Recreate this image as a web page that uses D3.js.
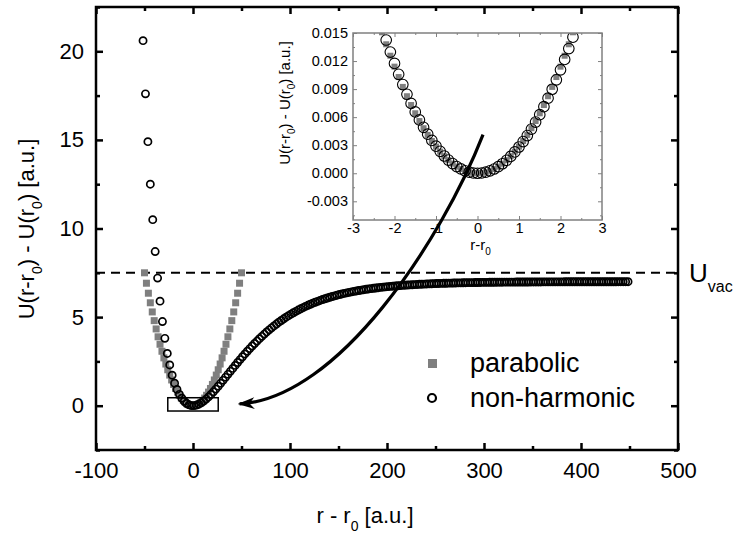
<!DOCTYPE html>
<html>
<head>
<meta charset="utf-8">
<script src="https://cdn.jsdelivr.net/npm/d3@7"></script>
<style>
body { margin: 0; background: #fff; }
text { font-family: "Liberation Sans", Arial, Helvetica, sans-serif; }
</style>
</head>
<body>
<div id="chart"></div>
<script>
// parabolic approximation, main plot
const harmX = [-50, -48, -46, -44, -42, -40, -38, -36, -34, -32, -30, -28, -26, -24, -22, -20, -18, -16, -14, -12, -10, -8, -6, -4, -2,
    0, 2, 4, 6, 8, 10, 12, 14, 16, 18, 20, 22, 24, 26, 28, 30, 32, 34, 36, 38, 40, 42, 44, 46, 48, 50];
const harmU = [7.5, 6.912, 6.348, 5.808, 5.292, 4.8, 4.332, 3.888, 3.468, 3.072, 2.7, 2.352, 2.028, 1.728, 1.452, 1.2, 0.972, 0.768, 0.588, 0.432, 0.3, 0.192, 0.108, 0.048, 0.012,
    0, 0.012, 0.048, 0.108, 0.192, 0.3, 0.432, 0.588, 0.768, 0.972, 1.2, 1.452, 1.728, 2.028, 2.352, 2.7, 3.072, 3.468, 3.888, 4.332, 4.8, 5.292, 5.808, 6.348, 6.912, 7.5];

// non-harmonic potential, main plot
const morseX = [-51.5, -49, -46.5, -44, -41.5, -39, -36.5, -34, -31.5, -29, -26.5, -24, -21.5, -19, -16.5, -14, -11.5, -9, -6.5, -4, -1.5,
    1, 3.5, 6, 8.5, 11, 13.5, 16, 18.5, 21, 23.5,
    26, 28.5, 31, 33.5, 36, 38.5, 41, 43.5, 46, 48.5,
    51, 53.5, 56, 58.5, 61, 63.5, 66, 68.5, 71, 73.5,
    76, 78.5, 81, 83.5, 86, 88.5, 91, 93.5, 96, 98.5,
    101, 103.5, 106, 108.5, 111, 113.5, 116, 118.5, 121, 123.5,
    126, 128.5, 131, 133.5, 136, 138.5, 141, 143.5, 146, 148.5,
    151, 153.5, 156, 158.5, 161, 163.5, 166, 168.5, 171, 173.5,
    176, 178.5, 181, 183.5, 186, 188.5, 191, 193.5, 196, 198.5,
    201, 203.5, 206, 208.5, 211, 213.5, 216, 218.5, 221, 223.5,
    226, 228.5, 231, 233.5, 236, 238.5, 241, 243.5, 246, 248.5,
    251, 253.5, 256, 258.5, 261, 263.5, 266, 268.5, 271, 273.5,
    276, 278.5, 281, 283.5, 286, 288.5, 291, 293.5, 296, 298.5,
    301, 303.5, 306, 308.5, 311, 313.5, 316, 318.5, 321, 323.5,
    326, 328.5, 331, 333.5, 336, 338.5, 341, 343.5, 346, 348.5,
    351, 353.5, 356, 358.5, 361, 363.5, 366, 368.5, 371, 373.5,
    376, 378.5, 381, 383.5, 386, 388.5, 391, 393.5, 396, 398.5,
    401, 403.5, 406, 408.5, 411, 413.5, 416, 418.5, 421, 423.5,
    426, 428.5, 431, 433.5, 436, 438.5, 441, 443.5, 446, 448.5];
const morseU = [20.6, 17.6, 14.9, 12.5, 10.5, 8.7, 7.2, 5.9, 4.75, 3.8, 2.95, 2.3, 1.72, 1.27, 0.92, 0.64, 0.42, 0.25, 0.125, 0.045, 0.006,
    0.003, 0.030, 0.085, 0.162, 0.259, 0.372, 0.498, 0.636, 0.784, 0.938,
    1.098, 1.263, 1.430, 1.599, 1.768, 1.938, 2.106, 2.274, 2.439, 2.602,
    2.762, 2.919, 3.073, 3.223, 3.369, 3.511, 3.649, 3.784, 3.914, 4.040,
    4.162, 4.280, 4.393, 4.503, 4.609, 4.711, 4.809, 4.904, 4.994, 5.082,
    5.166, 5.246, 5.324, 5.398, 5.469, 5.537, 5.603, 5.665, 5.725, 5.783,
    5.838, 5.890, 5.941, 5.989, 6.035, 6.079, 6.121, 6.161, 6.200, 6.237,
    6.272, 6.305, 6.337, 6.368, 6.397, 6.425, 6.452, 6.477, 6.502, 6.525,
    6.547, 6.568, 6.588, 6.607, 6.626, 6.643, 6.660, 6.676, 6.691, 6.705,
    6.719, 6.732, 6.745, 6.757, 6.768, 6.779, 6.790, 6.800, 6.809, 6.818,
    6.826, 6.834, 6.842, 6.850, 6.857, 6.863, 6.870, 6.876, 6.882, 6.887,
    6.893, 6.898, 6.903, 6.907, 6.911, 6.916, 6.920, 6.923, 6.927, 6.931,
    6.934, 6.937, 6.940, 6.943, 6.945, 6.948, 6.950, 6.953, 6.955, 6.957,
    6.959, 6.961, 6.963, 6.964, 6.966, 6.968, 6.969, 6.970, 6.972, 6.973,
    6.974, 6.975, 6.976, 6.977, 6.978, 6.979, 6.980, 6.981, 6.982, 6.983,
    6.983, 6.984, 6.985, 6.985, 6.986, 6.987, 6.987, 6.988, 6.988, 6.989,
    6.989, 6.990, 6.990, 6.991, 6.991, 6.991, 6.992, 6.992, 6.992, 6.993,
    6.993, 6.993, 6.994, 6.994, 6.994, 6.994, 6.995, 6.995, 6.995, 6.995,
    6.996, 6.996, 6.996, 6.996, 6.996, 6.997, 6.997, 6.997, 6.997, 6.997];

// inset (zoom around the minimum)
const insetX = [-2.4, -2.3, -2.2, -2.1, -2.0, -1.9, -1.8, -1.7, -1.6, -1.5, -1.4, -1.3, -1.2, -1.1, -1.0, -0.9, -0.8, -0.7, -0.6, -0.5, -0.4, -0.3, -0.2, -0.1,
    0, 0.1, 0.2, 0.3, 0.4, 0.5, 0.6, 0.7, 0.8, 0.9, 1.0, 1.1, 1.2, 1.3, 1.4, 1.5, 1.6, 1.7, 1.8, 1.9, 2.0, 2.1, 2.2, 2.3, 2.4, 2.5];
const insetHarmU = [0.016416, 0.015077, 0.013794, 0.012569, 0.0114, 0.010289, 0.009234, 0.008237, 0.007296, 0.006413, 0.005586, 0.004817, 0.004104, 0.003449, 0.00285, 0.002309, 0.001824, 0.001397, 0.001026, 0.000713, 0.000456, 0.000257, 0.000114, 0.0000285,
    0, 0.0000285, 0.000114, 0.000257, 0.000456, 0.000713, 0.001026, 0.001397, 0.001824, 0.002309, 0.00285, 0.003449, 0.004104, 0.004817, 0.005586, 0.006413, 0.007296, 0.008237, 0.009234, 0.010289, 0.0114, 0.012569, 0.013794, 0.015077, 0.016416, 0.017813];
const insetMorseU = [0.017007, 0.015597, 0.014249, 0.012965, 0.011742, 0.010582, 0.009483, 0.008447, 0.007471, 0.006557, 0.005703, 0.004911, 0.004178, 0.003506, 0.002893, 0.00234, 0.001846, 0.001411, 0.001035, 0.000718, 0.000459, 0.000258, 0.000114, 0.0000289,
    0, 0.0000281, 0.000113, 0.000255, 0.000453, 0.000707, 0.001017, 0.001382, 0.001802, 0.002277, 0.002807, 0.003392, 0.00403, 0.004723, 0.005469, 0.006269, 0.007121, 0.008027, 0.008985, 0.009996, 0.011058, 0.012173, 0.013339, 0.014557, 0.015825, 0.017145];

const xTicks = [-100, 0, 100, 200, 300, 400, 500];
const xMinorTicks = [-50, 50, 150, 250, 350, 450];
const yTicks = [0, 5, 10, 15, 20];
const yMinorTicks = [-2.5, 2.5, 7.5, 12.5, 17.5, 22.5];
const insetXTicks = [-3, -2, -1, 0, 1, 2, 3];
const insetXMinor = [-2.5, -1.5, -0.5, 0.5, 1.5, 2.5];
const insetYTicks = [-0.003, 0, 0.003, 0.006, 0.009, 0.012, 0.015];
const insetYMinor = [-0.0045, -0.0015, 0.0015, 0.0045, 0.0075, 0.0105, 0.0135];

const vacuumLevel = 7.5;
const legendNames = ['parabolic', 'non-harmonic'];

const width = 737;
const height = 534;

const svg = d3.select('#chart')
    .append('svg')
    .attr('width', width)
    .attr('height', height);

const x = d3.scaleLinear().domain([-100, 500]).range([96, 678]);
const y = d3.scaleLinear().domain([-2.5, 22.5]).range([450, 7]);

const ix = d3.scaleLinear().domain([-3, 3]).range([353, 602]);
const iy = d3.scaleLinear().domain([-0.005, 0.015]).range([220, 33]);

function styleAxis(sel, color, w, fontSize) {
    sel.select('.domain').remove();
    sel.selectAll('.tick line').attr('stroke', color).attr('stroke-width', w);
    sel.selectAll('.tick text').attr('fill', '#000').attr('font-size', fontSize).attr('font-family', null);
}

// ---------- main axes ----------
const axes = svg.append('g');
axes.append('g').attr('transform', 'translate(0,' + y(-2.5) + ')')
    .call(d3.axisBottom(x).tickValues(xTicks).tickSize(-7).tickPadding(12).tickFormat(d => d))
    .call(s => styleAxis(s, '#000', 2.5, 22));
axes.append('g').attr('transform', 'translate(0,' + y(-2.5) + ')')
    .call(d3.axisBottom(x).tickValues(xMinorTicks).tickSize(-4).tickFormat(''))
    .call(s => styleAxis(s, '#000', 2.5, 22));
axes.append('g').attr('transform', 'translate(0,' + y(22.5) + ')')
    .call(d3.axisTop(x).tickValues(xTicks).tickSize(-7).tickFormat(''))
    .call(s => styleAxis(s, '#000', 2.5, 22));
axes.append('g').attr('transform', 'translate(0,' + y(22.5) + ')')
    .call(d3.axisTop(x).tickValues(xMinorTicks).tickSize(-4).tickFormat(''))
    .call(s => styleAxis(s, '#000', 2.5, 22));
axes.append('g').attr('transform', 'translate(' + x(-100) + ',0)')
    .call(d3.axisLeft(y).tickValues(yTicks).tickSize(-7).tickPadding(12).tickFormat(d => d))
    .call(s => styleAxis(s, '#000', 2.5, 22));
axes.append('g').attr('transform', 'translate(' + x(-100) + ',0)')
    .call(d3.axisLeft(y).tickValues(yMinorTicks).tickSize(-4).tickFormat(''))
    .call(s => styleAxis(s, '#000', 2.5, 22));
axes.append('g').attr('transform', 'translate(' + x(500) + ',0)')
    .call(d3.axisRight(y).tickValues(yTicks).tickSize(-7).tickFormat(''))
    .call(s => styleAxis(s, '#000', 2.5, 22));
axes.append('g').attr('transform', 'translate(' + x(500) + ',0)')
    .call(d3.axisRight(y).tickValues(yMinorTicks).tickSize(-4).tickFormat(''))
    .call(s => styleAxis(s, '#000', 2.5, 22));

axes.append('rect')
    .attr('x', x(-100)).attr('y', y(22.5))
    .attr('width', x(500) - x(-100)).attr('height', y(-2.5) - y(22.5))
    .attr('fill', 'none').attr('stroke', '#000').attr('stroke-width', 2.5);

// axis titles
const xTitle = svg.append('text')
    .attr('x', 365).attr('y', 523)
    .attr('text-anchor', 'middle')
    .attr('font-size', 22);
xTitle.append('tspan').text('r - r');
xTitle.append('tspan').attr('font-size', 14).attr('dy', 8).text('0');
xTitle.append('tspan').attr('dy', -8).text(' [a.u.]');

const yTitle = svg.append('text')
    .attr('transform', 'translate(34,229) rotate(-90)')
    .attr('text-anchor', 'middle')
    .attr('font-size', 22);
yTitle.append('tspan').text('U(r-r');
yTitle.append('tspan').attr('font-size', 14).attr('dy', 8).text('0');
yTitle.append('tspan').attr('dy', -8).text(') - U(r');
yTitle.append('tspan').attr('font-size', 14).attr('dy', 8).text('0');
yTitle.append('tspan').attr('dy', -8).text(') [a.u.]');

// vacuum level
svg.append('line')
    .attr('x1', x(-100)).attr('x2', x(500))
    .attr('y1', y(vacuumLevel)).attr('y2', y(vacuumLevel))
    .attr('stroke', '#000').attr('stroke-width', 2)
    .attr('stroke-dasharray', '9,6');

const uvac = svg.append('text')
    .attr('x', 689).attr('y', y(vacuumLevel) + 9)
    .attr('font-size', 26);
uvac.append('tspan').text('U');
uvac.append('tspan').attr('font-size', 16).attr('dy', 10).text('vac');

// ---------- main data ----------
const main = svg.append('g');
main.selectAll('.harm')
    .data(harmX.map((d, i) => [d, harmU[i]]))
    .enter()
    .append('rect')
    .attr('class', 'harm')
    .attr('x', d => x(d[0]) - 3.5)
    .attr('y', d => y(d[1]) - 3.5)
    .attr('width', 7).attr('height', 7)
    .attr('fill', '#7f7f7f');

main.selectAll('.morse')
    .data(morseX.map((d, i) => [d, morseU[i]]))
    .enter()
    .append('circle')
    .attr('class', 'morse')
    .attr('cx', d => x(d[0]))
    .attr('cy', d => y(d[1]))
    .attr('r', 3.6)
    .attr('fill', 'none')
    .attr('stroke', '#000')
    .attr('stroke-width', 1.7);

// zoom box around the minimum
svg.append('rect')
    .attr('x', x(-26)).attr('y', y(0.45))
    .attr('width', x(26) - x(-26)).attr('height', y(-0.3) - y(0.45))
    .attr('fill', 'none').attr('stroke', '#000').attr('stroke-width', 1.5);

// legend
const legend = svg.append('g');
legend.append('rect')
    .attr('x', 428).attr('y', 359).attr('width', 9).attr('height', 9)
    .attr('fill', '#7f7f7f');
legend.append('circle')
    .attr('cx', 432).attr('cy', 398).attr('r', 4)
    .attr('fill', 'none').attr('stroke', '#000').attr('stroke-width', 2.2);
legend.selectAll('.legend-label')
    .data(legendNames)
    .enter()
    .append('text')
    .attr('class', 'legend-label')
    .attr('x', 470)
    .attr('y', (d, i) => 372 + i * 35)
    .attr('font-size', 27)
    .text(d => d);

// ---------- inset ----------
const inset = svg.append('g');
inset.append('rect')
    .attr('x', ix(-3)).attr('y', iy(0.015))
    .attr('width', ix(3) - ix(-3)).attr('height', iy(-0.005) - iy(0.015))
    .attr('fill', '#fff');

svg.append('clipPath').attr('id', 'inset-clip')
    .append('rect')
    .attr('x', ix(-3)).attr('y', iy(0.015))
    .attr('width', ix(3) - ix(-3)).attr('height', iy(-0.005) - iy(0.015));

const insetData = inset.append('g').attr('clip-path', 'url(#inset-clip)');
insetData.selectAll('.iharm')
    .data(insetX.map((d, i) => [d, insetHarmU[i]]))
    .enter()
    .append('rect')
    .attr('class', 'iharm')
    .attr('x', d => ix(d[0]) - 3)
    .attr('y', d => iy(d[1]) - 3)
    .attr('width', 6).attr('height', 6)
    .attr('fill', '#7f7f7f');
insetData.selectAll('.imorse')
    .data(insetX.map((d, i) => [d, insetMorseU[i]]))
    .enter()
    .append('circle')
    .attr('class', 'imorse')
    .attr('cx', d => ix(d[0]))
    .attr('cy', d => iy(d[1]))
    .attr('r', 5.3)
    .attr('fill', 'none')
    .attr('stroke', '#000')
    .attr('stroke-width', 1.1);

const ic = '#808080';
inset.append('g').attr('transform', 'translate(0,' + iy(-0.005) + ')')
    .call(d3.axisBottom(ix).tickValues(insetXTicks).tickSize(-4).tickPadding(3).tickFormat(d => d))
    .call(s => styleAxis(s, ic, 1, 14.5));
inset.append('g').attr('transform', 'translate(0,' + iy(-0.005) + ')')
    .call(d3.axisBottom(ix).tickValues(insetXMinor).tickSize(-2).tickFormat(''))
    .call(s => styleAxis(s, ic, 1, 14.5));
inset.append('g').attr('transform', 'translate(0,' + iy(0.015) + ')')
    .call(d3.axisTop(ix).tickValues(insetXTicks).tickSize(-4).tickFormat(''))
    .call(s => styleAxis(s, ic, 1, 14.5));
inset.append('g').attr('transform', 'translate(0,' + iy(0.015) + ')')
    .call(d3.axisTop(ix).tickValues(insetXMinor).tickSize(-2).tickFormat(''))
    .call(s => styleAxis(s, ic, 1, 14.5));
inset.append('g').attr('transform', 'translate(' + ix(-3) + ',0)')
    .call(d3.axisLeft(iy).tickValues(insetYTicks).tickSize(-4).tickPadding(5).tickFormat(d => d.toFixed(3)))
    .call(s => styleAxis(s, ic, 1, 14.5));
inset.append('g').attr('transform', 'translate(' + ix(-3) + ',0)')
    .call(d3.axisLeft(iy).tickValues(insetYMinor).tickSize(-2).tickFormat(''))
    .call(s => styleAxis(s, ic, 1, 14.5));
inset.append('g').attr('transform', 'translate(' + ix(3) + ',0)')
    .call(d3.axisRight(iy).tickValues(insetYTicks).tickSize(-4).tickFormat(''))
    .call(s => styleAxis(s, ic, 1, 14.5));
inset.append('g').attr('transform', 'translate(' + ix(3) + ',0)')
    .call(d3.axisRight(iy).tickValues(insetYMinor).tickSize(-2).tickFormat(''))
    .call(s => styleAxis(s, ic, 1, 14.5));
inset.append('rect')
    .attr('x', ix(-3)).attr('y', iy(0.015))
    .attr('width', ix(3) - ix(-3)).attr('height', iy(-0.005) - iy(0.015))
    .attr('fill', 'none').attr('stroke', ic).attr('stroke-width', 1.5);

const ixTitle = inset.append('text')
    .attr('x', ix(0) + 3).attr('y', 250)
    .attr('text-anchor', 'middle')
    .attr('font-size', 15)
    .attr('fill', '#000');
ixTitle.append('tspan').text('r-r');
ixTitle.append('tspan').attr('font-size', 10).attr('dy', 5).text('0');

const iyTitle = inset.append('text')
    .attr('transform', 'translate(290,103) rotate(-90)')
    .attr('text-anchor', 'middle')
    .attr('font-size', 15);
iyTitle.append('tspan').text('U(r-r');
iyTitle.append('tspan').attr('font-size', 10).attr('dy', 5).text('0');
iyTitle.append('tspan').attr('dy', -5).text(') - U(r');
iyTitle.append('tspan').attr('font-size', 10).attr('dy', 5).text('0');
iyTitle.append('tspan').attr('dy', -5).text(') [a.u.]');

// ---------- arrow from inset to the zoom box ----------
const arrowStart = [299, 15.3];
const arrowC1 = [256, 9.3];
const arrowC2 = [150, 0.4];
const arrowEnd = [48, 0.1];

const p = d3.path();
p.moveTo(x(arrowStart[0]), y(arrowStart[1]));
p.bezierCurveTo(x(arrowC1[0]), y(arrowC1[1]), x(arrowC2[0]), y(arrowC2[1]), x(arrowEnd[0]), y(arrowEnd[1]));

svg.append('defs').append('marker')
    .attr('id', 'head')
    .attr('markerUnits', 'userSpaceOnUse')
    .attr('viewBox', '-18 -7 20 14')
    .attr('refX', 0).attr('refY', 0)
    .attr('markerWidth', 20).attr('markerHeight', 14)
    .attr('orient', 'auto')
    .append('path')
    .attr('d', 'M2,0 L-15,-6 L-10,0 L-15,6 Z')
    .attr('fill', '#000');

svg.append('path')
    .attr('d', p.toString())
    .attr('fill', 'none')
    .attr('stroke', '#000')
    .attr('stroke-width', 3.2)
    .attr('marker-end', 'url(#head)');
</script>
</body>
</html>
